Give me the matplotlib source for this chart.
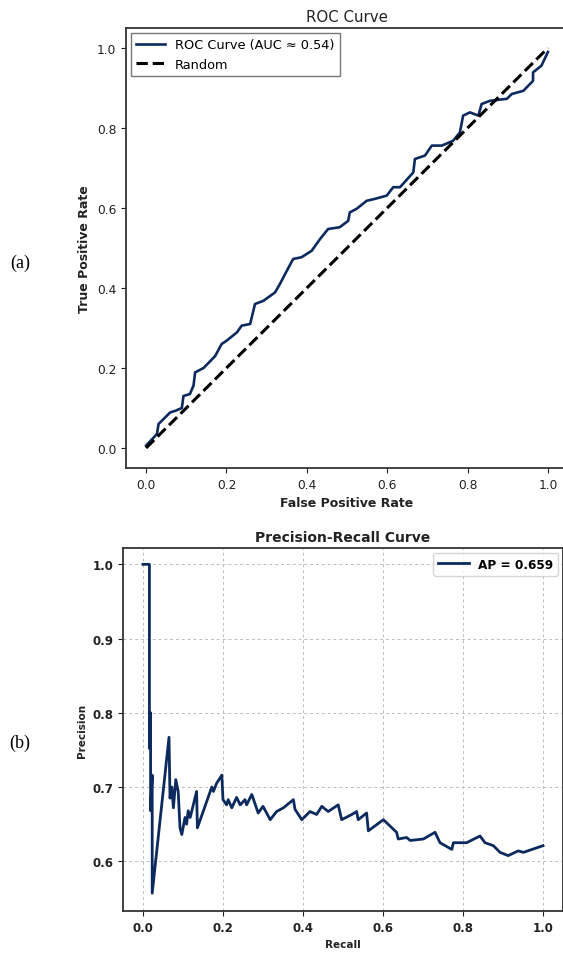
import matplotlib
matplotlib.use("Agg")
import matplotlib.pyplot as plt

# ROC curve
fpr = [0.0, 0.027, 0.031, 0.06, 0.073, 0.089, 0.093, 0.109, 0.118, 0.122, 0.143,
       0.172, 0.188, 0.2, 0.226, 0.238, 0.259, 0.271, 0.292, 0.321, 0.333, 0.346,
       0.366, 0.387, 0.412, 0.433, 0.453, 0.482, 0.503, 0.507, 0.524, 0.549,
       0.57, 0.599, 0.615, 0.632, 0.665, 0.669, 0.694, 0.711, 0.736, 0.764,
       0.781, 0.789, 0.806, 0.827, 0.835, 0.856, 0.898, 0.91, 0.939, 0.963,
       0.963, 0.984, 1.0]
tpr = [0.006, 0.035, 0.06, 0.089, 0.093, 0.10, 0.13, 0.135, 0.156, 0.189, 0.20,
       0.23, 0.26, 0.268, 0.289, 0.306, 0.31, 0.36, 0.368, 0.389, 0.41, 0.435,
       0.4725, 0.477, 0.493, 0.5225, 0.5475, 0.552, 0.568, 0.589, 0.598, 0.618,
       0.623, 0.631, 0.652, 0.652, 0.689, 0.7225, 0.731, 0.756, 0.756, 0.768,
       0.789, 0.831, 0.839, 0.831, 0.86, 0.868, 0.873, 0.885, 0.893, 0.918,
       0.939, 0.956, 0.99]
rand_x = [0.0, 1.0]
rand_y = [0.0, 1.0]

# Precision-recall curve
recall = [0.0, 0.016, 0.016, 0.019, 0.019, 0.023, 0.023, 0.023, 0.065, 0.0675,
          0.072, 0.076, 0.082, 0.088, 0.0925, 0.097, 0.105, 0.109, 0.113, 0.118,
          0.134, 0.136, 0.172, 0.176, 0.184, 0.197, 0.20, 0.209, 0.213, 0.222,
          0.234, 0.243, 0.255, 0.259, 0.272, 0.288, 0.30, 0.318, 0.334, 0.351,
          0.376, 0.38, 0.397, 0.4175, 0.434, 0.447, 0.463, 0.488, 0.4967, 0.522,
          0.534, 0.538, 0.559, 0.5633, 0.601, 0.634, 0.638, 0.659, 0.668, 0.701,
          0.73, 0.7425, 0.772, 0.776, 0.809, 0.8425, 0.855, 0.876, 0.8925, 0.913,
          0.938, 0.951, 1.0]
precision = [1.0, 1.0, 0.752, 0.80, 0.668, 0.716, 0.668, 0.557, 0.767, 0.685,
             0.70, 0.672, 0.71, 0.694, 0.645, 0.636, 0.659, 0.65, 0.668, 0.659,
             0.694, 0.645, 0.70, 0.694, 0.705, 0.716, 0.683, 0.676, 0.683, 0.672,
             0.686, 0.676, 0.683, 0.676, 0.69, 0.665, 0.674, 0.656, 0.667, 0.672,
             0.683, 0.670, 0.656, 0.667, 0.663, 0.674, 0.667, 0.676, 0.656, 0.663,
             0.667, 0.656, 0.665, 0.641, 0.656, 0.639, 0.630, 0.632, 0.628, 0.630,
             0.639, 0.625, 0.616, 0.625, 0.625, 0.634, 0.625, 0.621, 0.612, 0.6076,
             0.614, 0.612, 0.621]

navy = "#0c2a5e"
W, H = 563, 954
fig = plt.figure(figsize=(W / 100, H / 100), dpi=100)

# (a) ROC
ax1 = fig.add_axes([126 / W, 1 - 469 / H, (568 - 126) / W, (469 - 29) / H])
ax1.plot(fpr, tpr, color=navy, lw=1.9, label="ROC Curve (AUC \u2248 0.54)")
ax1.plot(rand_x, rand_y, "k--", lw=2.2, label="Random")
ax1.set_xlim(-0.05, 1.05)
ax1.set_ylim(-0.05, 1.05)
ax1.set_xticks([0, 0.2, 0.4, 0.6, 0.8, 1.0])
ax1.set_yticks([0, 0.2, 0.4, 0.6, 0.8, 1.0])
ax1.tick_params(labelsize=8.8, colors="#222222")
ax1.set_title("ROC Curve", fontsize=10.8, color="#222222", pad=5)
ax1.set_xlabel("False Positive Rate", fontsize=9, fontweight="bold", color="#222222")
ax1.set_ylabel("True Positive Rate", fontsize=9, fontweight="bold", color="#222222")
ax1.legend(loc="upper left", fontsize=9.3, fancybox=False, edgecolor="#555555",
           handlelength=2.2, borderaxespad=0.4)
ax1.spines["right"].set_visible(False)
for s in ax1.spines.values():
    s.set_linewidth(1.3)
    s.set_color("#333333")

# (b) Precision-Recall
ax2 = fig.add_axes([123 / W, 1 - 912 / H, (563 - 123) / W, (912 - 549) / H])
ax2.plot(recall, precision, color=navy, lw=2, label="AP = 0.659")
ax2.set_xticks([0, 0.2, 0.4, 0.6, 0.8, 1.0])
ax2.set_yticks([0.6, 0.7, 0.8, 0.9, 1.0])
ax2.set_xlim(-0.05, 1.05)
ax2.set_ylim(0.533, 1.022)
ax2.grid(True, ls=(0, (3, 3)), lw=0.7, color="#bdbdbd")
for lab in ax2.get_xticklabels() + ax2.get_yticklabels():
    lab.set_fontweight("bold")
ax2.tick_params(labelsize=8.5, colors="#222222")
ax2.set_title("Precision-Recall Curve", fontsize=10, fontweight="bold",
              color="#222222", pad=5)
ax2.set_xlabel("Recall", fontsize=7.5, fontweight="bold", color="#222222")
ax2.set_ylabel("Precision", fontsize=7.5, fontweight="bold", color="#222222")
leg = ax2.legend(loc="upper right", fontsize=8.7, handlelength=2.5, borderaxespad=0.4)
for t in leg.get_texts():
    t.set_fontweight("bold")
for s in ax2.spines.values():
    s.set_linewidth(1.3)
    s.set_color("#333333")

fig.text(20 / W, 1 - 263 / H, "(a)", family="Liberation Serif", fontsize=13,
         ha="center", va="center")
fig.text(20 / W, 1 - 743 / H, "(b)", family="Liberation Serif", fontsize=13,
         ha="center", va="center")

fig.savefig("out.png", dpi=100)
